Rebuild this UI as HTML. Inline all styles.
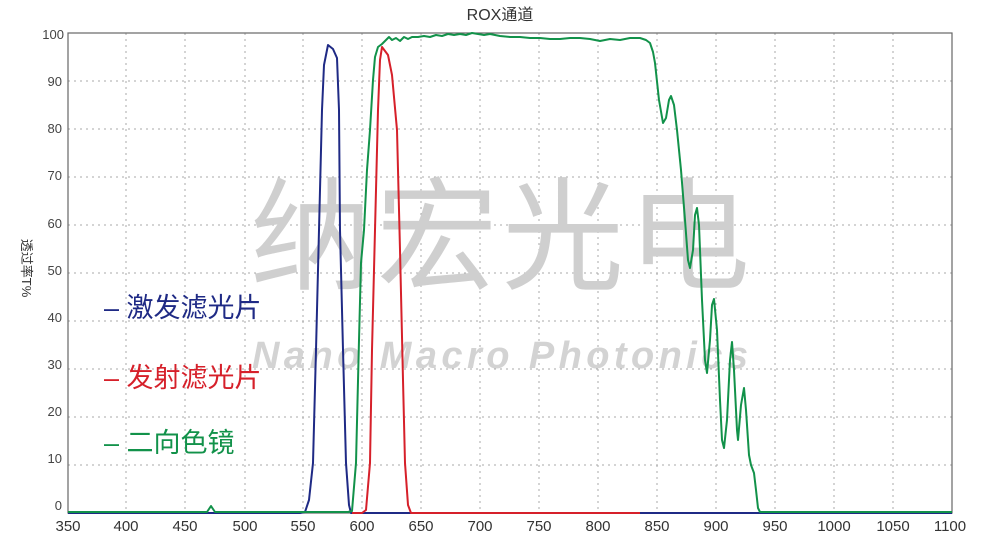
<!DOCTYPE html>
<html><head><meta charset="utf-8"><style>
body{margin:0;background:#fff;}
svg{display:block;font-family:"Liberation Sans","Noto Sans CJK SC",sans-serif;}
</style></head><body>
<svg width="1000" height="541" viewBox="0 0 1000 541" xmlns="http://www.w3.org/2000/svg">
<rect width="1000" height="541" fill="#fff"/>
<text x="500" y="20" text-anchor="middle" font-size="16" fill="#333">ROX通道</text>
<g stroke="#aaa" stroke-width="1" stroke-dasharray="2,4">
<line x1="126" y1="33" x2="126" y2="513"/><line x1="185" y1="33" x2="185" y2="513"/><line x1="245" y1="33" x2="245" y2="513"/><line x1="303" y1="33" x2="303" y2="513"/><line x1="362" y1="33" x2="362" y2="513"/><line x1="421" y1="33" x2="421" y2="513"/><line x1="480" y1="33" x2="480" y2="513"/><line x1="539" y1="33" x2="539" y2="513"/><line x1="598" y1="33" x2="598" y2="513"/><line x1="657" y1="33" x2="657" y2="513"/><line x1="716" y1="33" x2="716" y2="513"/><line x1="775" y1="33" x2="775" y2="513"/><line x1="834" y1="33" x2="834" y2="513"/><line x1="893" y1="33" x2="893" y2="513"/>
<line x1="68" y1="81" x2="952" y2="81"/><line x1="68" y1="129" x2="952" y2="129"/><line x1="68" y1="177" x2="952" y2="177"/><line x1="68" y1="225" x2="952" y2="225"/><line x1="68" y1="273" x2="952" y2="273"/><line x1="68" y1="321" x2="952" y2="321"/><line x1="68" y1="369" x2="952" y2="369"/><line x1="68" y1="417" x2="952" y2="417"/><line x1="68" y1="465" x2="952" y2="465"/>
</g>
<rect x="68" y="33" width="884" height="480" fill="none" stroke="#666" stroke-width="1.2"/>
<g font-size="13" fill="#444" text-anchor="end">
<text x="64" y="39">100</text><text x="62" y="86">90</text><text x="62" y="133">80</text><text x="62" y="180">70</text><text x="62" y="228">60</text><text x="62" y="275">50</text><text x="62" y="322">40</text><text x="62" y="369">30</text><text x="62" y="416">20</text><text x="62" y="463">10</text><text x="62" y="510">0</text>
</g>
<g font-size="15" fill="#333" text-anchor="middle">
<text x="68" y="531">350</text><text x="126" y="531">400</text><text x="185" y="531">450</text><text x="245" y="531">500</text><text x="303" y="531">550</text><text x="362" y="531">600</text><text x="421" y="531">650</text><text x="480" y="531">700</text><text x="539" y="531">750</text><text x="598" y="531">800</text><text x="657" y="531">850</text><text x="716" y="531">900</text><text x="775" y="531">950</text><text x="834" y="531">1000</text><text x="893" y="531">1050</text><text x="950" y="531">1100</text>
</g>
<text transform="translate(22,268) rotate(90)" text-anchor="middle" font-size="13" fill="#333">透过率T%</text>
<text x="250" y="280" font-size="122" fill="#cfcfcf" textLength="500" lengthAdjust="spacing">纳宏光电</text>
<text x="252" y="368" font-size="38" font-weight="bold" font-style="italic" fill="#d3d3d3" textLength="496" lengthAdjust="spacing">Nano Macro Photonics</text>
<g font-size="27">
<text x="104" y="317" fill="#1f2a85">– 激发滤光片</text>
<text x="104" y="387" fill="#d6202a">– 发射滤光片</text>
<text x="104" y="452" fill="#12924a">– 二向色镜</text>
</g>
<g fill="none" stroke-width="2" stroke-linejoin="round">
<polyline stroke="#1f2a85" points="68,513 300,513 305,512 309,500 313,463 316,350 319,230 322,110 324,65 328,45 333,49 337,58 339,110 340,230 343,350 346,463 349,505 351,513 952,513"/>
<polyline stroke="#d6202a" points="352,513 362,513 366,510 370,463 372,350 375,230 378,110 380,60 382,47 388,55 392,75 397,130 400,250 403,380 405,463 408,505 411,513 640,513"/>
<polyline stroke="#12924a" points="68,512 207,512 209,509 211,506 213,509 215,512 348,512 352,511 356,463 359,340 361,263 364,230 367,170 370,130 373,80 375,57 378,47 382,44 386,40 389,37 392,40 396,38 400,41 404,37 408,39 412,37 418,37 424,36 430,37 436,35 442,36 448,34 454,35 460,34 466,35 472,33 478,34 484,35 490,34 500,36 510,37 520,37 530,38 540,38 550,39 560,39 570,38 580,38 590,39 600,41 610,39 620,40 630,38 640,38 646,40 650,43 653,52 655,63 659,100 663,123 666,118 669,100 671,96 674,105 677,130 681,170 685,220 688,260 690,268 693,250 695,215 697,208 699,225 702,300 705,360 707,373 710,340 712,305 714,299 717,330 720,400 722,440 724,448 727,420 730,360 732,342 734,370 737,430 738,440 741,405 744,388 746,410 749,455 751,465 754,473 756,490 758,508 760,512 952,512"/>
</g>
</svg>
</body></html>
